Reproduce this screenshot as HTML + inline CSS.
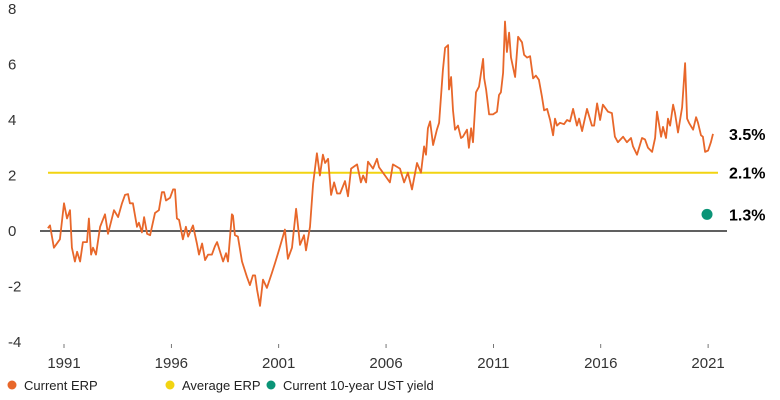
<!DOCTYPE html>
<html><head><meta charset="utf-8"><style>
body{margin:0;background:#fff;font-family:"Liberation Sans",sans-serif}
svg{display:block}
</style></head><body>
<svg id="chart" width="780" height="400" xmlns="http://www.w3.org/2000/svg"></svg>
<script>
const yTicks=[8,6,4,2,0,-2,-4];
const xTicks=[1991,1996,2001,2006,2011,2016,2021];
const erpYears=[1990.25,1990.35,1990.53,1990.81,1991.0,1991.14,1991.28,1991.37,1991.51,1991.61,1991.75,1991.88,1992.07,1992.16,1992.26,1992.35,1992.49,1992.68,1992.91,1993.05,1993.33,1993.52,1993.70,1993.84,1993.98,1994.07,1994.21,1994.40,1994.49,1994.63,1994.73,1994.87,1995.01,1995.24,1995.42,1995.56,1995.66,1995.75,1995.94,1996.08,1996.17,1996.26,1996.36,1996.54,1996.68,1996.78,1997.01,1997.19,1997.29,1997.43,1997.57,1997.71,1997.89,1998.03,1998.13,1998.41,1998.55,1998.64,1998.82,1998.87,1998.96,1999.10,1999.29,1999.52,1999.66,1999.80,1999.90,1999.99,2000.13,2000.27,2000.45,2000.69,2000.83,2001.01,2001.29,2001.43,2001.62,2001.81,2001.85,2001.99,2002.18,2002.27,2002.46,2002.60,2002.78,2002.92,2003.06,2003.16,2003.30,2003.44,2003.58,2003.72,2003.86,2004.09,2004.23,2004.37,2004.65,2004.83,2004.93,2005.07,2005.16,2005.39,2005.58,2005.67,2005.95,2006.18,2006.32,2006.65,2006.84,2007.02,2007.21,2007.44,2007.63,2007.77,2007.86,2007.95,2008.05,2008.19,2008.37,2008.47,2008.65,2008.75,2008.89,2008.93,2009.03,2009.12,2009.21,2009.35,2009.49,2009.58,2009.77,2009.86,2009.96,2010.05,2010.19,2010.33,2010.52,2010.57,2010.66,2010.80,2010.98,2011.17,2011.26,2011.35,2011.45,2011.54,2011.63,2011.73,2011.82,2012.01,2012.15,2012.33,2012.43,2012.57,2012.71,2012.85,2012.98,2013.12,2013.26,2013.36,2013.50,2013.64,2013.78,2013.87,2013.96,2014.10,2014.29,2014.43,2014.57,2014.71,2014.89,2014.99,2015.13,2015.36,2015.59,2015.69,2015.83,2015.97,2016.10,2016.34,2016.52,2016.66,2016.80,2017.04,2017.22,2017.41,2017.50,2017.69,2017.92,2018.06,2018.20,2018.39,2018.53,2018.62,2018.81,2018.90,2019.04,2019.13,2019.23,2019.37,2019.46,2019.60,2019.79,2019.93,2020.02,2020.11,2020.30,2020.44,2020.53,2020.67,2020.76,2020.86,2021.00,2021.13,2021.23,2021.37];
const erpValues=[0.1,0.2,-0.6,-0.3,1.0,0.45,0.75,-0.6,-1.1,-0.75,-1.1,-0.4,-0.4,0.45,-0.85,-0.6,-0.85,0.15,0.6,-0.1,0.75,0.5,1.0,1.3,1.33,1.0,1.0,0.15,0.3,-0.05,0.5,-0.1,-0.15,0.65,0.75,1.4,1.4,1.1,1.2,1.5,1.5,0.45,0.4,-0.3,0.15,-0.2,0.2,-0.45,-0.85,-0.45,-1.05,-0.85,-0.85,-0.55,-0.4,-1.1,-0.8,-1.1,0.6,0.55,-0.15,-0.2,-1.1,-1.65,-1.95,-1.6,-1.6,-2.1,-2.7,-1.75,-2.05,-1.5,-1.15,-0.7,0.05,-1.0,-0.6,0.8,0.55,-0.5,-0.15,-0.7,0.15,1.7,2.8,2.0,2.75,2.45,2.6,1.3,1.75,1.35,1.35,1.8,1.25,2.25,2.4,1.75,2.0,1.75,2.5,2.25,2.6,2.3,2.0,1.75,2.4,2.25,1.75,2.1,1.5,2.45,2.1,3.05,2.75,3.7,3.95,3.1,3.65,3.9,5.8,6.6,6.7,5.1,5.55,4.35,3.65,3.8,3.35,3.4,3.65,3.0,3.7,3.2,5.0,5.2,6.2,5.5,5.1,4.2,4.2,4.3,4.9,5.0,5.7,7.55,6.45,7.15,6.25,5.55,7.0,6.8,6.35,6.25,6.3,5.5,5.6,5.45,4.85,4.35,4.4,4.0,3.45,4.05,3.8,3.9,3.85,4.0,3.95,4.4,3.8,4.05,3.6,4.4,3.8,3.8,4.6,4.0,4.55,4.3,4.25,3.4,3.2,3.4,3.2,3.35,3.05,2.75,3.35,3.3,3.0,2.85,3.35,4.3,3.4,3.75,3.35,4.05,3.8,4.55,4.25,3.55,4.45,6.05,4.05,3.9,3.65,4.1,3.9,3.45,3.4,2.85,2.9,3.2,3.5];
const avgErp=[2.1];
const ustYield=[0.6];
const ustYear=[2020.95];
const endLabels=["3.5%","2.1%","1.3%"];
const endLabelValues=[3.5,2.1,0.6];

const NS="http://www.w3.org/2000/svg";
const svg=document.getElementById('chart');
function xS(y){return 64+(y-1991)*21.47;}
function yS(v){return 231-v*27.75;}
function mk(t,a,txt){const e=document.createElementNS(NS,t);for(const k in a)e.setAttribute(k,a[k]);if(txt!==undefined)e.textContent=txt;svg.appendChild(e);return e;}

yTicks.forEach(v=>{
  const t=mk('text',{x:8,y:yS(v)+5,'font-size':15,fill:'#333'},String(v));
  
  
});
xTicks.forEach(v=>{
  const t=mk('text',{x:xS(v),y:368,'font-size':15,fill:'#333','text-anchor':'middle'},String(v));
  
  
  const k=mk('line',{x1:xS(v),x2:xS(v),y1:344,y2:348,stroke:'#555','stroke-width':0.8});
  
  
});
const z=mk('line',{x1:40,x2:727,y1:yS(0),y2:yS(0),stroke:'#000','stroke-width':1.2});


const av=mk('line',{x1:48,x2:718,y1:yS(avgErp[0]),y2:yS(avgErp[0]),stroke:'#f2d411','stroke-width':2});


const pts=erpYears.map((y,i)=>xS(y).toFixed(1)+','+yS(erpValues[i]).toFixed(1)).join(' ');
const pl=mk('polyline',{points:pts,fill:'none',stroke:'#e8672a','stroke-width':1.8,'stroke-linejoin':'round'});


const dot=mk('circle',{cx:xS(ustYear[0]),cy:yS(ustYield[0]),r:5.5,fill:'#0b9477'});


endLabels.forEach((s,i)=>{
  const t=mk('text',{x:729,y:yS(endLabelValues[i])+6,'font-size':16,'font-weight':'bold',fill:'#000'},s);
  
  
});
const legend=[["Current ERP","#e8672a",12],["Average ERP","#f2d411",170],["Current 10-year UST yield","#0b9477",271]];
legend.forEach(l=>{
  const c=mk('circle',{cx:l[2],cy:385,r:4.5,fill:l[1]});
  
  
  const t=mk('text',{x:l[2]+12,y:390,'font-size':13,fill:'#222'},l[0]);
  
  
});
</script>
</body></html>
